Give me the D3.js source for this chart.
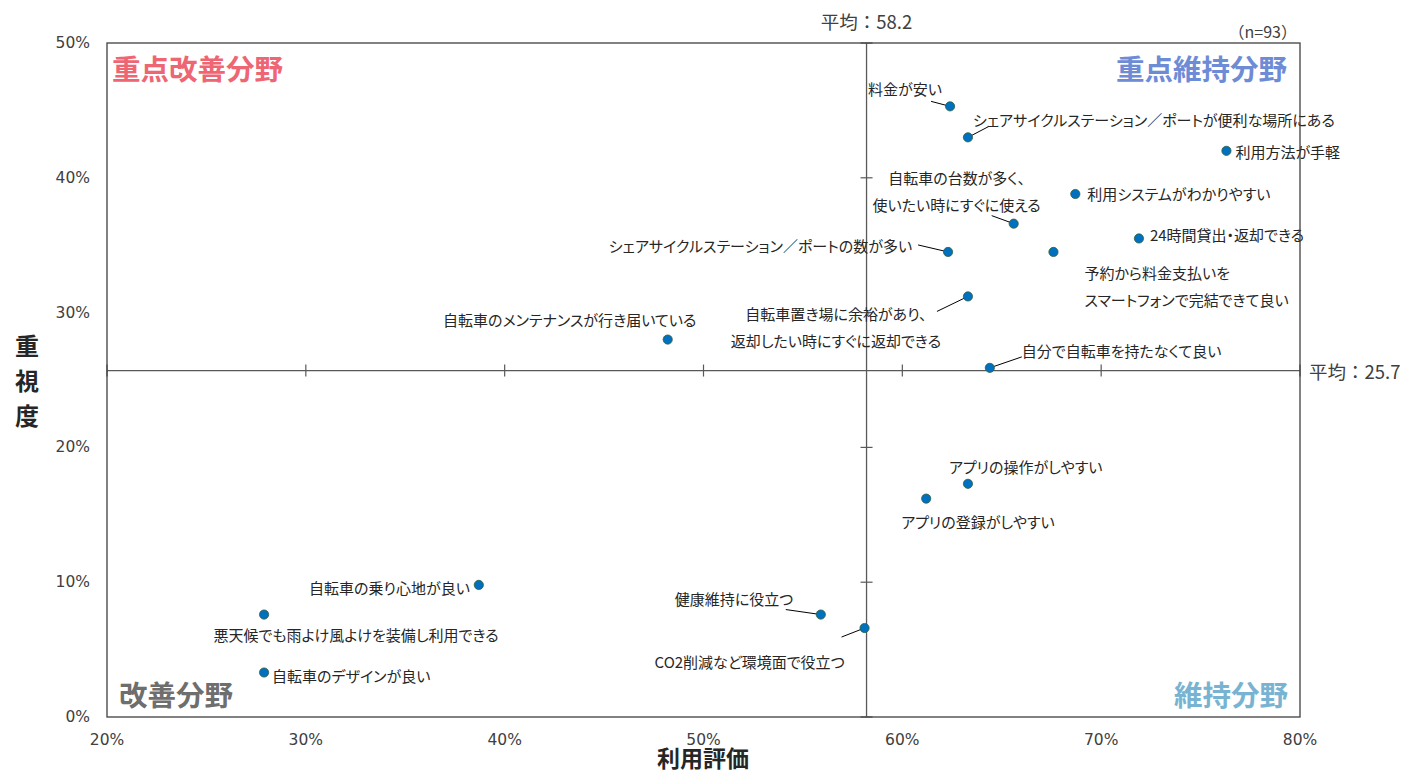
<!DOCTYPE html>
<html><head><meta charset="utf-8">
<script src="https://cdn.jsdelivr.net/npm/d3@7"></script>
<style>
html,body{margin:0;padding:0;background:#fff;}
svg{display:block;}
text{font-family:"Noto Sans CJK JP","Noto Sans",sans-serif;}
.lbl{font-feature-settings:"palt" 1;}
</style></head>
<body>
<script>
// ---- data ----
const items = [
  "料金が安い",
  "シェアサイクルステーション／ポートが便利な場所にある",
  "利用方法が手軽",
  "利用システムがわかりやすい",
  "自転車の台数が多く、\n使いたい時にすぐに使える",
  "24時間貸出・返却できる",
  "予約から料金支払いを\nスマートフォンで完結できて良い",
  "シェアサイクルステーション／ポートの数が多い",
  "自転車置き場に余裕があり、\n返却したい時にすぐに返却できる",
  "自転車のメンテナンスが行き届いている",
  "自分で自転車を持たなくて良い",
  "アプリの操作がしやすい",
  "アプリの登録がしやすい",
  "自転車の乗り心地が良い",
  "悪天候でも雨よけ風よけを装備し利用できる",
  "自転車のデザインが良い",
  "健康維持に役立つ",
  "CO2削減など環境面で役立つ"
];
const evaluation = [62.4, 63.3, 76.3, 68.7, 65.6, 71.9, 67.6, 62.3, 63.3, 48.2, 64.4, 63.3, 61.2, 38.7, 27.9, 27.9, 55.9, 58.1];
const importance = [45.3, 43.0, 42.0, 38.8, 36.6, 35.5, 34.5, 34.5, 31.2, 28.0, 25.9, 17.3, 16.2, 9.8, 7.6, 3.3, 7.6, 6.6];
const avgEvaluation = 58.2;
const avgImportance = 25.7;
const xTicks = [20, 30, 40, 50, 60, 70, 80];
const yTicks = [0, 10, 20, 30, 40, 50];
const quadrantNames = ["重点改善分野", "重点維持分野", "改善分野", "維持分野"];
const sampleNote = "（n=93）";

// ---- label layout (pixel offsets from the point) ----
const layout = [
  {dx:-82, dy:-18, a:"start", lx:-19, ly:-5},
  {dx:5, dy:-18, a:"start", lx:21, ly:-11},
  {dx:9, dy:1, a:"start"},
  {dx:12, dy:0, a:"start"},
  {dx:-57, dy:-46, a:"middle", lx:-22, ly:-8},
  {dx:11, dy:-4, a:"start"},
  {dx:31, dy:21, a:"start"},
  {dx:-36, dy:-6, a:"end", lx:-30, ly:-7},
  {dx:-132, dy:17, a:"middle", lx:-31, ly:15},
  {dx:-98, dy:-20, a:"middle"},
  {dx:32, dy:-17, a:"start", lx:32, ly:-11},
  {dx:-19, dy:-17, a:"start"},
  {dx:-25, dy:23, a:"start"},
  {dx:-9, dy:3, a:"end"},
  {dx:92, dy:20, a:"middle"},
  {dx:8, dy:3, a:"start"},
  {dx:-146, dy:-16, a:"start", lx:-35, ly:-5},
  {dx:-210, dy:33, a:"start", lx:-23, ly:9}
];

const W = 1407, H = 771;
const m = {left:107, right:1300, top:43, bottom:717};
const svg = d3.select("body").append("svg").attr("width", W).attr("height", H);

const x = d3.scaleLinear().domain([20, 80]).range([m.left, m.right]);
const y = d3.scaleLinear().domain([0, 50]).range([m.bottom, m.top]);

// tick labels
svg.append("g").selectAll("text").data(yTicks).join("text")
  .attr("x", 90).attr("y", d => y(d)).attr("text-anchor", "end")
  .attr("dominant-baseline", "central")
  .style("font-family", "'DejaVu Sans'").style("font-size", "15.5px").attr("fill", "#404040")
  .text(d => d + "%");
svg.append("g").selectAll("text").data(xTicks).join("text")
  .attr("x", d => x(d)).attr("y", 740).attr("text-anchor", "middle")
  .attr("dominant-baseline", "central")
  .style("font-family", "'DejaVu Sans'").style("font-size", "15.5px").attr("fill", "#404040")
  .text(d => d + "%");

// average lines with crossing ticks (axes crossing at average)
const ax = x(avgEvaluation), ay = y(avgImportance);
svg.append("line").attr("x1", ax).attr("x2", ax).attr("y1", m.top).attr("y2", m.bottom)
  .attr("stroke", "#595959").attr("stroke-width", 1.3);
svg.append("line").attr("x1", m.left).attr("x2", m.right).attr("y1", ay).attr("y2", ay)
  .attr("stroke", "#595959").attr("stroke-width", 1.3);
svg.append("g").selectAll("line").data(yTicks).join("line")
  .attr("x1", ax - 6).attr("x2", ax + 6).attr("y1", d => y(d)).attr("y2", d => y(d))
  .attr("stroke", "#595959").attr("stroke-width", 1.2);
svg.append("g").selectAll("line").data(xTicks).join("line")
  .attr("y1", ay - 6).attr("y2", ay + 6).attr("x1", d => x(d)).attr("x2", d => x(d))
  .attr("stroke", "#595959").attr("stroke-width", 1.2);

// leader lines
const pts = items.map((t, i) => ({t, i, px: x(evaluation[i]), py: y(importance[i]), L: layout[i]}));
svg.append("g").selectAll("line").data(pts.filter(p => p.L.lx !== undefined)).join("line")
  .attr("x1", p => p.px).attr("y1", p => p.py)
  .attr("x2", p => p.px + p.L.lx).attr("y2", p => p.py + p.L.ly)
  .attr("stroke", "#000").attr("stroke-width", 1);

// labels
const lab = svg.append("g").selectAll("text").data(pts).join("text")
  .attr("class", "lbl")
  .attr("text-anchor", p => p.L.a)
  .style("font-size", "15px").attr("fill", "#262626");
lab.each(function(p){
  const lines = p.t.split("\n");
  d3.select(this).selectAll("tspan").data(lines).join("tspan")
    .attr("x", p.px + p.L.dx)
    .attr("y", (d, k) => p.py + p.L.dy + k * 27)
    .attr("dominant-baseline", "central")
    .text(d => d);
});

// points
svg.append("g").selectAll("circle").data(pts).join("circle")
  .attr("cx", p => p.px).attr("cy", p => p.py).attr("r", 4.6)
  .attr("fill", "#0070C0").attr("stroke", "#2E5E3A").attr("stroke-width", 0.8);

// frame
svg.append("rect").attr("x", m.left).attr("y", m.top)
  .attr("width", m.right - m.left).attr("height", m.bottom - m.top)
  .attr("fill", "none").attr("stroke", "#404040").attr("stroke-width", 1.3);

// quadrant labels
const qcol = ["#EE6673", "#6E8CD6", "#6E6E6E", "#78B4D2"];
const qpos = [
  {x: m.left + 5, y: m.top + 24, a: "start"},
  {x: m.right - 13, y: m.top + 24, a: "end"},
  {x: m.left + 12, y: m.bottom - 24, a: "start"},
  {x: m.right - 12, y: m.bottom - 24, a: "end"}
];
svg.append("g").selectAll("text").data(quadrantNames).join("text")
  .attr("x", (d, i) => qpos[i].x).attr("y", (d, i) => qpos[i].y)
  .attr("text-anchor", (d, i) => qpos[i].a).attr("dominant-baseline", "central")
  .style("font-size", "28.5px").style("font-weight", "bold")
  .attr("fill", (d, i) => qcol[i]).text(d => d);

// average labels
svg.append("text").attr("x", ax).attr("y", 21).attr("text-anchor", "middle")
  .attr("dominant-baseline", "central").style("font-size", "18.5px").attr("fill", "#404040")
  .text("平均：" + avgEvaluation.toFixed(1));
svg.append("text").attr("x", m.right + 9).attr("y", ay).attr("text-anchor", "start")
  .attr("dominant-baseline", "central").style("font-size", "18.5px").attr("fill", "#404040")
  .text("平均：" + avgImportance.toFixed(1));
svg.append("text").attr("x", m.right - 3).attr("y", 31).attr("text-anchor", "end")
  .attr("dominant-baseline", "central").style("font-size", "16px").attr("fill", "#404040")
  .text(sampleNote);

// axis titles
svg.append("text").attr("x", 703).attr("y", 757).attr("text-anchor", "middle")
  .attr("dominant-baseline", "central").style("font-size", "23px").style("font-weight", "bold")
  .attr("fill", "#262626").text("利用評価");
const yt = "重視度".split("");
svg.append("g").selectAll("text").data(yt).join("text")
  .attr("x", 27).attr("y", (d, i) => 344 + i * 35).attr("text-anchor", "middle")
  .attr("dominant-baseline", "central").style("font-size", "24px").style("font-weight", "bold")
  .attr("fill", "#262626").text(d => d);
</script>
</body></html>
